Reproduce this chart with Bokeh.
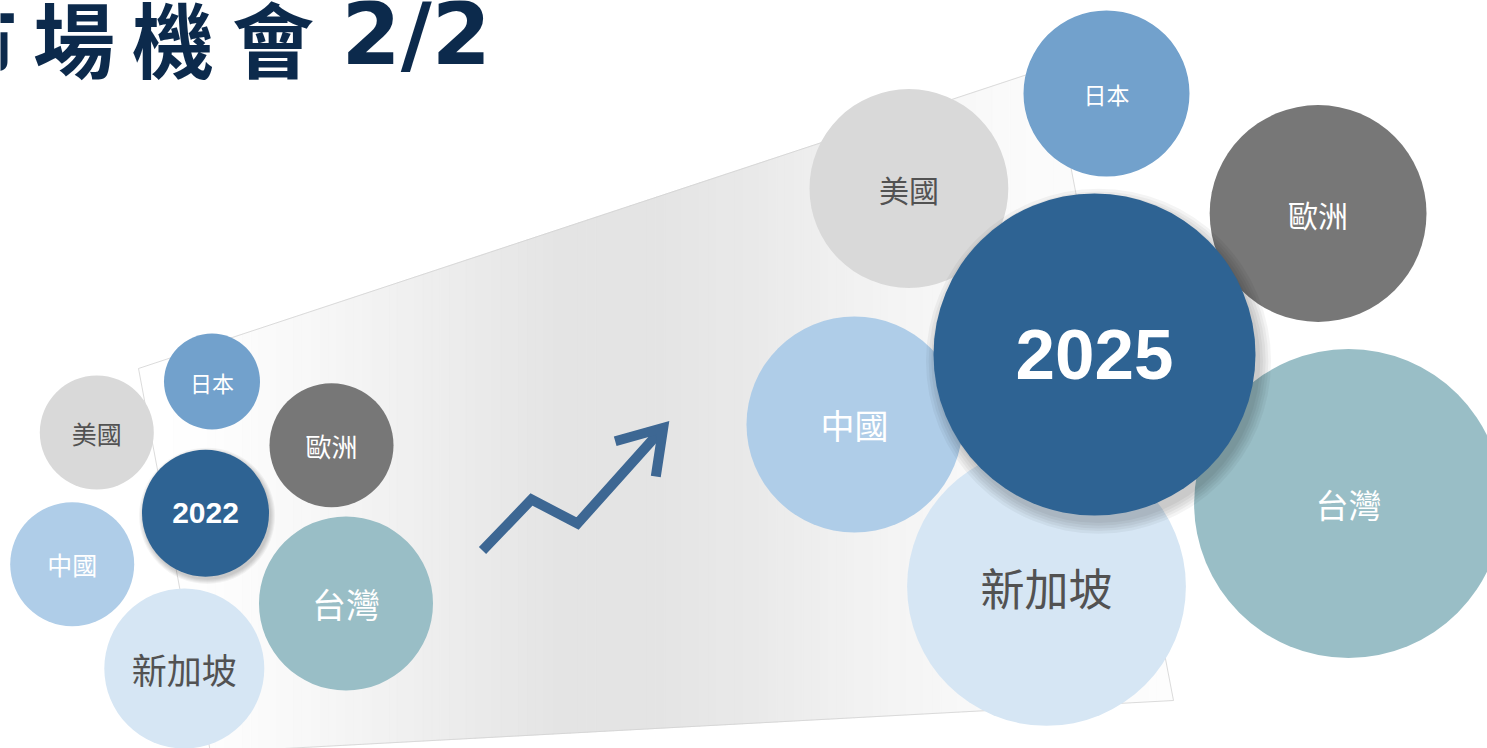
import numpy as np
from bokeh.plotting import figure
from bokeh.models import Range1d, ColumnDataSource
from bokeh.core.properties import value
from bokeh.embed import file_html
from bokeh.resources import INLINE

# ---------------- data (pixel units) ----------------
title_chars = ["市", "場", "機", "會"]
title_suffix = "2/2"
regions = ["新加坡", "中國", "美國", "日本", "歐洲", "台灣"]

x_2022 = [183.8, 71.7, 96.3, 211.5, 331.0, 345.5]
y_2022 = [668.0, 563.7, 432.0, 381.0, 444.7, 603.0]
r_2022 = [80.0, 62.0, 57.0, 48.0, 62.0, 87.0]

x_2025 = [1046.0, 854.0, 908.4, 1106.0, 1317.6, 1348.0]
y_2025 = [586.0, 424.0, 188.0, 93.0, 213.0, 503.0]
r_2025 = [139.4, 108.0, 99.4, 83.0, 108.4, 154.4]

years = ["2022", "2025"]
year_x = [205.0, 1094.0]
year_y = [512.7, 354.0]
year_r = [63.5, 161.0]

# ---------------- styles ----------------
FONT = "Noto Sans CJK TC"
fill_colors = ["#d6e6f4", "#afcde8", "#d9d9d9", "#72a1cc", "#777777", "#99bec6"]
text_colors = ["#525252", "#ffffff", "#525252", "#ffffff", "#ffffff", "#ffffff"]
fs_2022 = ["35px", "25px", "25px", "22px", "26px", "34px"]
fs_2025 = ["44px", "34px", "30px", "23px", "30px", "33px"]
year_fs = ["30px", "71px"]
YEAR_COLOR = "#2e6393"
ARROW_COLOR = "#3d6793"
TITLE_COLOR = "#0c2a4c"

W, H = 1487, 748
p = figure(width=W, height=H, x_range=Range1d(0, W), y_range=Range1d(H, 0),
           output_backend="svg", toolbar_location=None, min_border=0,
           background_fill_color="white", border_fill_color="white")
p.axis.visible = False
p.grid.visible = False
p.outline_line_color = None

# ---------------- background perspective panel with horizontal gradient ----------------
quad = [(138, 368), (1051, 66), (1173, 700), (210, 752)]
g_x = [138, 200, 300, 430, 560, 650, 750, 860, 1000, 1173]
g_v = [255, 254, 248, 238, 228, 228, 233, 242, 250, 253]


def clip_slab(poly, x0, x1):
    def clip(pl, keep, xc):
        out = []
        n = len(pl)
        for i in range(n):
            P, Q = pl[i], pl[(i + 1) % n]
            pin, qin = keep(P), keep(Q)
            if pin:
                out.append(P)
            if pin != qin:
                t = (xc - P[0]) / (Q[0] - P[0])
                out.append((xc, P[1] + t * (Q[1] - P[1])))
        return out
    pl = clip(poly, lambda q: q[0] >= x0, x0)
    if not pl:
        return pl
    return clip(pl, lambda q: q[0] <= x1, x1)


edges = np.linspace(138, 1173, 121)
sx, sy, sc = [], [], []
for a, b in zip(edges[:-1], edges[1:]):
    pl = clip_slab(quad, a, b + 0.8)
    if len(pl) < 3:
        continue
    g = int(round(np.interp((a + b) / 2, g_x, g_v)))
    sx.append([q[0] for q in pl])
    sy.append([q[1] for q in pl])
    sc.append("#%02x%02x%02x" % (g, g, g))
p.patches(sx, sy, fill_color=sc, line_color=sc, line_width=0.8)
p.line([q[0] for q in quad] + [quad[0][0]], [q[1] for q in quad] + [quad[0][1]],
       line_color="#d2d2d2", line_width=0.8)

# ---------------- arrow ----------------
p.line([482, 531, 577, 662.7], [550, 499, 523, 427.3], line_color=ARROW_COLOR,
       line_width=10, line_join="miter", line_cap="butt")
p.line([614.7, 662.7, 655.3], [440.7, 427.3, 476], line_color=ARROW_COLOR,
       line_width=10, line_join="miter", line_cap="butt")

# ---------------- bubbles ----------------
for xs, ys, rs, fss, yi in ((x_2022, y_2022, r_2022, fs_2022, 0), (x_2025, y_2025, r_2025, fs_2025, 1)):
    src = ColumnDataSource(dict(x=xs, y=ys, r=rs, fill=fill_colors, tc=text_colors,
                                fs=fss, label=regions))
    p.circle(x="x", y="y", radius="r", source=src, fill_color="fill", line_color=None)
    p.text(x="x", y="y", text="label", source=src, text_color="tc", text_font_size="fs",
           text_font=value(FONT), text_align="center", text_baseline="middle")
    # soft shadow under the year bubble
    cx, cy, cr = year_x[yi], year_y[yi], year_r[yi]
    k = cr / 60.0
    for j in range(5):
        p.circle(x=[cx + 1.5 * k], y=[cy + 2.5 * k], radius=[cr + (j + 0.3) * k],
                 fill_color="black", fill_alpha=0.045, line_color=None)
    p.circle(x=[cx], y=[cy], radius=[cr], fill_color=YEAR_COLOR, line_color=None)
    p.text(x=[cx], y=[cy], text=[years[yi]], text_color="white", text_font_size=year_fs[yi],
           text_font=value("Liberation Sans"), text_font_style="bold", text_align="center",
           text_baseline="middle")

# ---------------- title ----------------
p.text(x=[-24.5, 73.5, 172.5, 272.5], y=[36] * 4, text=title_chars, text_color=TITLE_COLOR,
       text_font_size="82px", text_font=value(FONT), text_font_style="bold",
       text_align="center", text_baseline="middle")
p.text(x=[341], y=[34], text=[title_suffix], text_color=TITLE_COLOR, text_font_size="85px",
       text_font=value("DejaVu Sans"), text_font_style="bold", text_align="left",
       text_baseline="middle")

open("out.html", "w").write(file_html(p, INLINE))
